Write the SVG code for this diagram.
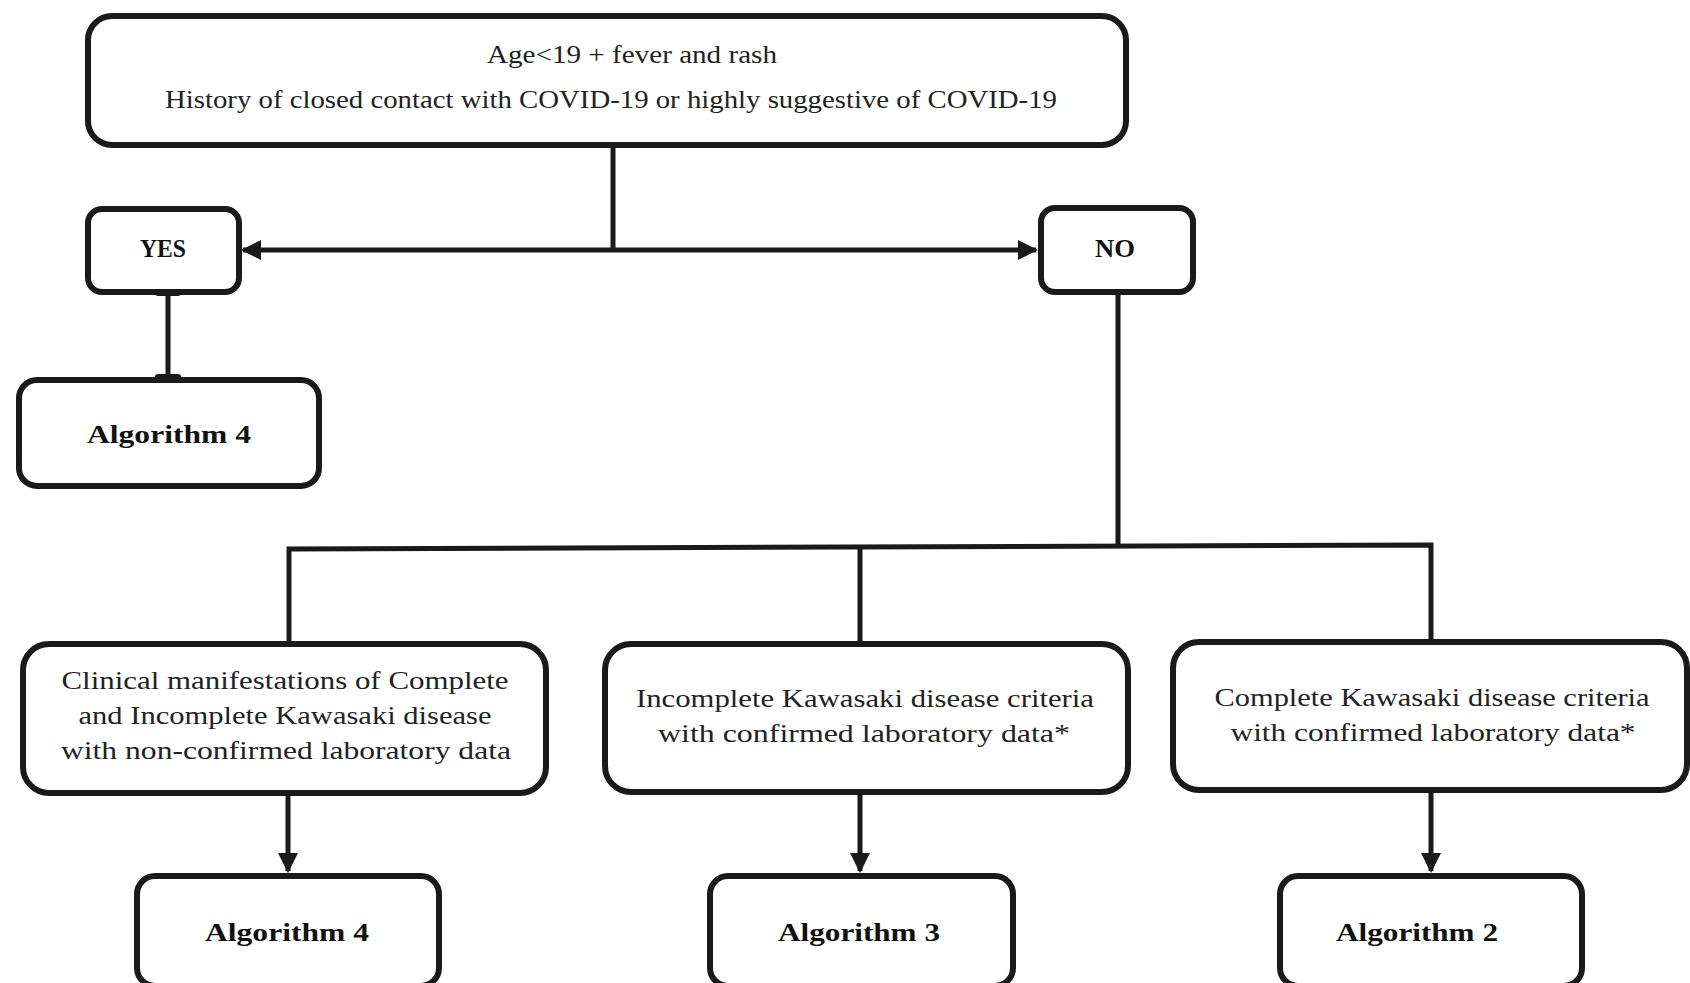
<svg xmlns="http://www.w3.org/2000/svg" width="1690" height="983" viewBox="0 0 1690 983">
<defs>
<style>
.box{fill:#fff;stroke:#1a1a1a;stroke-width:6}
.ln{fill:none;stroke:#1a1a1a;stroke-width:5}
.t{font-family:"Liberation Serif","DejaVu Serif",serif;font-size:25px;fill:#222;text-anchor:middle}
.b{font-family:"Liberation Serif","DejaVu Serif",serif;font-size:25px;font-weight:bold;fill:#111;text-anchor:middle}
</style>
<marker id="ah" viewBox="0 0 10 10" refX="9" refY="5" markerWidth="4" markerHeight="4" orient="auto-start-reverse" markerUnits="strokeWidth">
<path d="M0,0 L10,5 L0,10 z" fill="#1a1a1a"/>
</marker>
</defs>
<rect width="1690" height="983" fill="#fff"/>
<g id="top">
<rect class="box" x="88" y="16" width="1038" height="129" rx="24"/>
<text class="t" x="632" y="63" textLength="290" lengthAdjust="spacingAndGlyphs">Age&lt;19 + fever and rash</text>
<text class="t" x="611" y="108" textLength="892" lengthAdjust="spacingAndGlyphs">History of closed contact with COVID-19 or highly suggestive of COVID-19</text>
</g>
<g id="yes">
<rect class="box" x="88" y="209" width="151" height="83" rx="14"/>
<text class="b" x="163" y="257" font-size="22" textLength="46" lengthAdjust="spacingAndGlyphs">YES</text>
</g>
<g id="no">
<rect class="box" x="1041" y="208" width="152" height="84" rx="14"/>
<text class="b" x="1115" y="257" font-size="22" textLength="40" lengthAdjust="spacingAndGlyphs">NO</text>
</g>
<g id="alg4top">
<rect class="box" x="19" y="380" width="300" height="106" rx="18"/>
<text class="b" x="169" y="443" textLength="164" lengthAdjust="spacingAndGlyphs">Algorithm 4</text>
</g>
<g id="box1">
<rect class="box" x="23" y="644" width="523" height="149" rx="26"/>
<text class="t" x="285" y="689" textLength="447" lengthAdjust="spacingAndGlyphs">Clinical manifestations of Complete</text>
<text class="t" x="285" y="724" textLength="413" lengthAdjust="spacingAndGlyphs">and Incomplete Kawasaki disease</text>
<text class="t" x="286" y="759" textLength="450" lengthAdjust="spacingAndGlyphs">with non-confirmed laboratory data</text>
</g>
<g id="box2">
<rect class="box" x="605" y="644" width="523" height="148" rx="26"/>
<text class="t" x="865" y="707" textLength="458" lengthAdjust="spacingAndGlyphs">Incomplete Kawasaki disease criteria</text>
<text class="t" x="864" y="742" textLength="412" lengthAdjust="spacingAndGlyphs">with confirmed laboratory data*</text>
</g>
<g id="box3">
<rect class="box" x="1173" y="642" width="514" height="148" rx="26"/>
<text class="t" x="1432" y="706" textLength="435" lengthAdjust="spacingAndGlyphs">Complete Kawasaki disease criteria</text>
<text class="t" x="1433" y="741" textLength="405" lengthAdjust="spacingAndGlyphs">with confirmed laboratory data*</text>
</g>
<g id="alg4">
<rect class="box" x="137" y="876" width="302" height="110" rx="18"/>
<text class="b" x="287" y="941" textLength="164" lengthAdjust="spacingAndGlyphs">Algorithm 4</text>
</g>
<g id="alg3">
<rect class="box" x="710" y="876" width="303" height="110" rx="18"/>
<text class="b" x="859" y="941" textLength="162" lengthAdjust="spacingAndGlyphs">Algorithm 3</text>
</g>
<g id="alg2">
<rect class="box" x="1280" y="876" width="302" height="110" rx="18"/>
<text class="b" x="1417" y="941" textLength="162" lengthAdjust="spacingAndGlyphs">Algorithm 2</text>
</g>
<g id="connectors">
<line class="ln" x1="613" y1="146" x2="613" y2="250"/>
<line class="ln" x1="243" y1="250" x2="1036" y2="250" marker-start="url(#ah)" marker-end="url(#ah)"/>
<line class="ln" x1="168" y1="294" x2="168" y2="377"/>
<rect x="155" y="289" width="26" height="7" rx="3" fill="#1a1a1a"/>
<rect x="155" y="374" width="26" height="7" rx="3" fill="#1a1a1a"/>
<line class="ln" x1="1118" y1="294" x2="1118" y2="548"/>
<polyline class="ln" points="289,641 289,549 1431,545 1431,639"/>
<line class="ln" x1="860" y1="547" x2="860" y2="641"/>
<line class="ln" x1="288" y1="796" x2="288" y2="871" marker-end="url(#ah)"/>
<line class="ln" x1="860" y1="795" x2="860" y2="871" marker-end="url(#ah)"/>
<line class="ln" x1="1431" y1="793" x2="1431" y2="871" marker-end="url(#ah)"/>
</g>
</svg>
